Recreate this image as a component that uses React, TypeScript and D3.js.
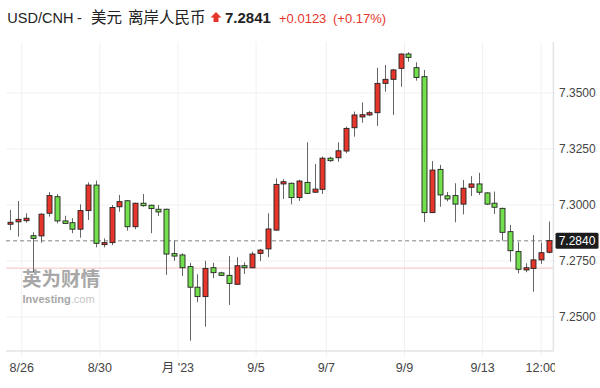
import React from "react";
import * as d3 from "d3";

const opens = [7.2914,7.2925,7.2930,7.2863,7.2862,7.2963,7.3037,7.2929,7.2921,7.2892,7.2975,7.3089,7.2823,7.2832,7.2992,7.3019,7.2903,7.3008,7.2999,7.2981,7.2981,7.2783,7.2777,7.2725,7.2633,7.2591,7.2720,7.2697,7.2686,7.2646,7.2729,7.2720,7.2784,7.2804,7.2888,7.3094,7.3097,7.3033,7.3101,7.3057,7.3070,7.3209,7.3211,7.3241,7.3345,7.3393,7.3402,7.3412,7.3543,7.3561,7.3610,7.3674,7.3613,7.3573,7.2966,7.3159,7.3041,7.3042,7.3004,7.3079,7.3094,7.3054,7.3008,7.2985,7.2881,7.2792,7.2710,7.2717,7.2755,7.2789];
const highs = [7.2978,7.3018,7.2963,7.2878,7.2963,7.3057,7.3049,7.2952,7.2941,7.3003,7.3101,7.3109,7.2851,7.3000,7.3045,7.3022,7.3010,7.3049,7.3001,7.3000,7.2984,7.2841,7.2784,7.2742,7.2691,7.2751,7.2742,7.2702,7.2772,7.2767,7.2744,7.2792,7.2804,7.2963,7.3119,7.3115,7.3100,7.3112,7.3280,7.3183,7.3216,7.3216,7.3280,7.3350,7.3417,7.3458,7.3420,7.3613,7.3625,7.3607,7.3677,7.3682,7.3637,7.3603,7.3196,7.3179,7.3058,7.3097,7.3112,7.3129,7.3144,7.3057,7.3060,7.2988,7.2911,7.2834,7.2740,7.2866,7.2832,7.2926];
const lows = [7.2888,7.2859,7.2921,7.2702,7.2832,7.2948,7.2918,7.2915,7.2874,7.2854,7.2933,7.2811,7.2811,7.2821,7.2970,7.2885,7.2892,7.2992,7.2874,7.2951,7.2688,7.2751,7.2683,7.2394,7.2566,7.2457,7.2673,7.2683,7.2554,7.2643,7.2692,7.2717,7.2750,7.2767,7.2884,7.3027,7.3003,7.3018,7.3049,7.3055,7.3049,7.3193,7.3193,7.3231,7.3305,7.3367,7.3397,7.3353,7.3506,7.3402,7.3528,7.3640,7.3555,7.2924,7.2964,7.2992,7.3016,7.2923,7.2958,7.3040,7.3045,7.3000,7.2960,7.2841,7.2747,7.2695,7.2700,7.2613,7.2737,7.2784];
const closes = [7.2923,7.2936,7.2941,7.2851,7.2959,7.3042,7.2929,7.2918,7.2892,7.2975,7.3089,7.2829,7.2832,7.2989,7.3015,7.2903,7.3008,7.2997,7.2984,7.2969,7.2781,7.2772,7.2720,7.2633,7.2591,7.2717,7.2698,7.2686,7.2650,7.2729,7.2720,7.2781,7.2799,7.2893,7.3092,7.3104,7.3033,7.3107,7.3052,7.3071,7.3209,7.3198,7.3242,7.3342,7.3402,7.3403,7.3412,7.3543,7.3561,7.3603,7.3674,7.3659,7.3569,7.2966,7.3156,7.3045,7.3027,7.3004,7.3075,7.3094,7.3057,7.3004,7.2990,7.2878,7.2796,7.2713,7.2720,7.2755,7.2787,7.2841];

const yTicks = [7.25, 7.275, 7.3, 7.325, 7.35];
const xTickIndex = [1.5, 11.5, 21.5, 31.5, 40.5, 50.5, 60.5, 68];
const xTickLabels = ["8/26", "8/30", "月 '23", "9/5", "9/7", "9/9", "9/13", "12:00"];
const lastPrice = 7.2840;
const prevClose = 7.2718;

const FONT = "'Liberation Sans', Arial, Helvetica, sans-serif";
const CJK = "'Liberation Sans', 'Noto Sans CJK SC', sans-serif";

export default function App() {
  const left = 6.1, right = 552.9, top = 42, bottom = 351;
  const n = opens.length;
  const x = d3.scaleLinear().domain([-0.5, n - 0.5]).range([left, right]);
  const y = d3.scaleLinear().domain([7.25, 7.35]).range([317, 93]);
  const bw = 5;
  const red = "#e6352b";
  const green = "#72e04c";

  return (
    <svg width={600} height={388} style={{ position: "absolute", left: 0, top: 0, background: "#fff" }}>
      <defs>
        <clipPath id="plotclip">
          <rect x={0} y={0} width={555} height={388} />
        </clipPath>
      </defs>
      {/* header */}
      <g fontFamily={CJK} fill="#222">
        <text x={7.3} y={23} fontSize={14.5}>USD/CNH</text>
        <text x={77} y={23} fontSize={14.5}>-</text>
        <text x={91} y={23} fontSize={15.5}>美元</text>
        <text x={128} y={23} fontSize={15.5}>离岸人民币</text>
      </g>
      <path d="M216 12 L221.5 17.5 L218.5 17.5 L218.5 22 L213.5 22 L213.5 17.5 L210.5 17.5 Z" fill={red} />
      <text x={225} y={23} fontSize={15} fontWeight="bold" fontFamily={FONT} fill="#222">7.2841</text>
      <text x={279} y={22.5} fontSize={13} fontFamily={FONT} fill={red}>+0.0123</text>
      <text x={333} y={22.5} fontSize={13} fontFamily={FONT} fill={red}>(+0.17%)</text>

      {/* grid */}
      {yTicks.map((t) => (
        <line key={"gy" + t} x1={left} x2={right + 3} y1={y(t)} y2={y(t)} stroke="#f1f1f3" />
      ))}
      {xTickIndex.map((t, i) => (
        <line key={"gx" + i} x1={x(t)} x2={x(t)} y1={top} y2={bottom + 6} stroke="#f1f1f3" />
      ))}
      {/* axes borders */}
      <line x1={left} x2={right + 1} y1={bottom} y2={bottom} stroke="#e4e4e8" strokeWidth={1.5} />
      <line x1={right + 0.5} x2={right + 0.5} y1={top} y2={bottom} stroke="#e4e4e8" strokeWidth={1.5} />

      {/* watermark */}
      <g opacity={0.75}>
        <text x={22} y={286} fontSize={19.5} fontWeight="bold" fontFamily="'Noto Sans CJK SC', sans-serif" fill="#8a8a8a">英为财情</text>
        <text x={22.5} y={303} fontSize={11} fontWeight="bold" fontFamily={FONT} fill="#8a8a8a">
          Investing<tspan fill="#b0b0b0" fontWeight="normal">.com</tspan>
        </text>
      </g>

      {/* reference lines */}
      <line x1={left} x2={right} y1={y(prevClose)} y2={y(prevClose)} stroke="#f7c2c2" strokeWidth={1} />
      <line x1={left} x2={right} y1={y(lastPrice)} y2={y(lastPrice)} stroke="#808080" strokeWidth={1} strokeDasharray="4,3" />

      {/* candles */}
      {opens.map((o, i) => {
        const c = closes[i];
        const up = c >= o;
        const cx = Math.round(x(i)) + 0.5;
        const yTop = y(Math.max(o, c));
        const yBot = y(Math.min(o, c));
        const h = Math.max(1.5, yBot - yTop);
        return (
          <g key={"c" + i}>
            <line x1={cx} x2={cx} y1={y(highs[i])} y2={y(lows[i])} stroke="#666" strokeWidth={1} />
            <rect x={cx - bw / 2} y={yTop} width={bw} height={h} fill={up ? red : green} stroke="#222" strokeWidth={0.9} />
          </g>
        );
      })}

      {/* y axis labels */}
      {yTicks.map((t) => (
        <text key={"ty" + t} x={559} y={y(t) + 4.3} fontSize={12} fontFamily={FONT} fill="#444">
          {t.toFixed(4)}
        </text>
      ))}
      {/* last price box */}
      <rect x={555.5} y={y(lastPrice) - 8} width={43} height={16} rx={1.5} fill="#1c1c1c" />
      <text x={577} y={y(lastPrice) + 4.3} fontSize={12} textAnchor="middle" fontFamily={FONT} fill="#fff">
        {lastPrice.toFixed(4)}
      </text>

      {/* x axis labels */}
      <g clipPath="url(#plotclip)">
        {xTickIndex.map((t, i) => (
          <text key={"tx" + i} x={x(t)} y={372} fontSize={12.5} textAnchor="middle" fontFamily={CJK} fill="#444">
            {xTickLabels[i]}
          </text>
        ))}
      </g>
    </svg>
  );
}
